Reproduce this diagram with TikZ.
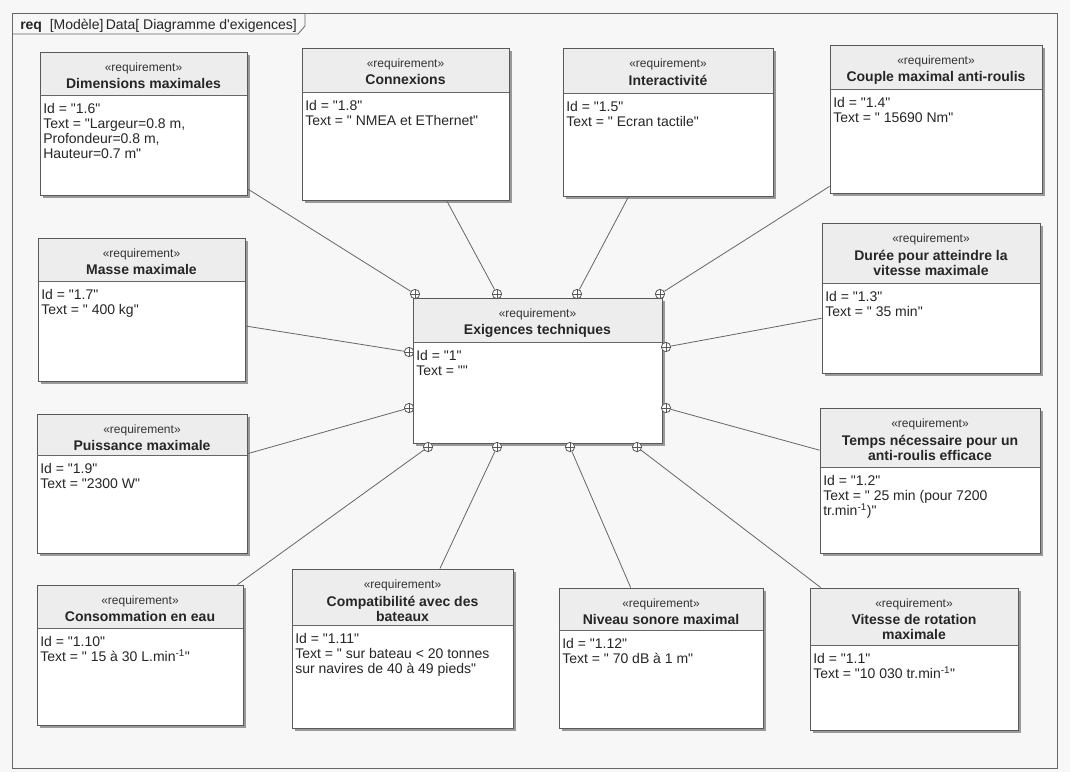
\documentclass[tikz,border=0pt]{standalone}
\usepackage{fontspec}
\setmainfont{Liberation Sans}[Ligatures=TeXOff]
\usetikzlibrary{fit}

\tikzset{
	px/.style={x=0.75pt, y=-0.75pt},
	reqbox/.style={draw=black!65, line width=0.7pt, inner sep=0pt},
	reqhead/.style={fill=black!7},
	reqshadow/.style={fill=black!40},
	reqline/.style={draw=black!60, line width=0.6pt},
	reqlink/.style={draw=black!60, line width=0.6pt},
	stereo/.style={font=\fontsize{9}{10}\selectfont, text=black!80, inner sep=0pt},
	reqtitle/.style={font=\fontsize{10.5}{11.25}\selectfont\bfseries, text=black!85, align=center, inner sep=0pt},
	reqbody/.style={font=\fontsize{10.5}{11.25}\selectfont, text=black!85, align=left, anchor=north west, inner sep=0pt},
	contain/.style={circle, draw=black!65, fill=white, line width=0.6pt, minimum size=7pt, inner sep=0pt,
		path picture={\draw[black!65, line width=0.5pt] (path picture bounding box.north) -- (path picture bounding box.south) (path picture bounding box.west) -- (path picture bounding box.east);}},
}

% name, left, top, right, bottom, divider, title, body
\newcommand{\reqbox}[8]{%
	\fill[reqshadow] (#2+3,#3+3) rectangle (#4+3,#5+3);
	\fill[white] (#2,#3) rectangle (#4,#5);
	\fill[reqhead] (#2,#3) rectangle (#4,#6);
	\node[reqbox, fit={(#2,#3) (#4,#5)}] (#1) {};
	\draw[reqline] (#2,#6) -- (#4,#6);
	\path (#1.north) ++(0,20) node[stereo, anchor=base] (#1-s) {«requirement»};
	\path (#1.north) ++(0,27) node[reqtitle, anchor=north] (#1-t) {#7};
	\path (#2,#6) ++(3,8) node[reqbody] (#1-b) {#8};
}

\begin{document}
\begin{tikzpicture}[px]
	\useasboundingbox (0,0) rectangle (1070,772);
	\fill[black!3] (0,0) rectangle (1070,772);

	% frame
	\draw[reqline] (12,13) rectangle (1057,768);
	\draw[reqline] (12,34) -- (298,34) -- (305,26) -- (305,13);
	\node[anchor=base west, inner sep=0pt, font=\fontsize{10.5}{12}\selectfont, text=black!85] (frametitle) at (20,29.5) {\textbf{req}\ \ [Modèle]\,Data[ Diagramme d'exigences]};

	% requirement boxes
	\reqbox{dim}{40}{52}{247}{195}{95}{Dimensions maximales}{Id = "1.6"\\Text = "Largeur=0.8 m,\\Profondeur=0.8 m,\\Hauteur=0.7 m"}
	\reqbox{conn}{302}{48}{509}{200}{92}{Connexions}{Id = "1.8"\\Text = " NMEA et EThernet"}
	\reqbox{inter}{563}{48}{773}{196}{93}{Interactivité}{Id = "1.5"\\Text = " Ecran tactile"}
	\reqbox{couple}{830}{45}{1042}{193}{89}{Couple maximal anti-roulis}{Id = "1.4"\\Text = " 15690 Nm"}
	\reqbox{masse}{38}{238}{245}{381}{281}{Masse maximale}{Id = "1.7"\\Text = " 400 kg"}
	\reqbox{tech}{413}{298}{662}{443}{342}{Exigences techniques}{Id = "1"\\Text = ""}
	\reqbox{duree}{822}{223}{1040}{373}{283}{Durée pour atteindre la\\vitesse maximale}{Id = "1.3"\\Text = " 35 min"}
	\reqbox{temps}{820}{408}{1040}{553}{467}{Temps nécessaire pour un\\anti-roulis efficace}{Id = "1.2"\\Text = " 25 min (pour 7200\\tr.min\textsuperscript{-1})"}
	\reqbox{puiss}{37}{414}{247}{553}{455}{Puissance maximale}{Id = "1.9"\\Text = "2300 W"}
	\reqbox{conso}{37}{585}{243}{725}{628}{Consommation en eau}{Id = "1.10"\\Text = " 15 à 30 L.min\textsuperscript{-1}"}
	\reqbox{compat}{292}{569}{513}{728}{625}{Compatibilité avec des\\bateaux}{Id = "1.11"\\Text = " sur bateau < 20 tonnes\\sur navires de 40 à 49 pieds"}
	\reqbox{niveau}{559}{588}{763}{728}{630}{Niveau sonore maximal}{Id = "1.12"\\Text = " 70 dB à 1 m"}
	\reqbox{vitesse}{810}{588}{1018}{730}{645}{Vitesse de rotation\\maximale}{Id = "1.1"\\Text = "10 030 tr.min\textsuperscript{-1}"}

	% containment links
	\foreach \nm/\kx/\ky in {dim/415/294, conn/497/294, inter/577/294, couple/660/294,
		masse/409/352, puiss/409/408, duree/666/347, temps/666/408,
		conso/428/447, compat/497/447, niveau/570/447, vitesse/637/447}
	{
		\node[contain] (k-\nm) at (\kx,\ky) {};
		\draw[reqlink] (\nm) -- (k-\nm);
	}

\end{tikzpicture}
\end{document}
